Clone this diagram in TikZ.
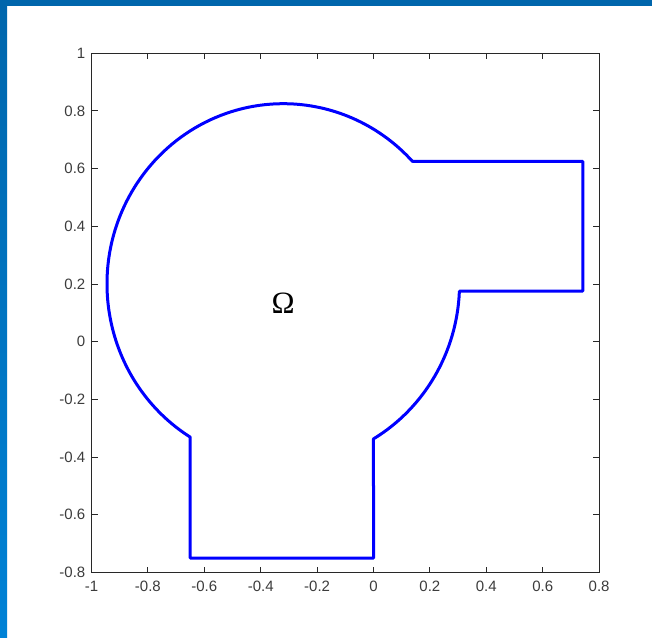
\documentclass[tikz,border=0pt]{standalone}
\usepackage{fontspec}
\setmainfont{Liberation Sans}
\newfontfamily\omegafont{Liberation Serif}
\definecolor{barTop}{RGB}{0,102,172}
\definecolor{barBot}{RGB}{0,130,214}
\definecolor{axisgray}{RGB}{40,40,40}
\definecolor{labelgray}{RGB}{60,60,60}
\begin{document}
\begin{tikzpicture}[x=1pt,y=1pt,
  axisline/.style={draw=axisgray,line width=1pt},
  ticklabel/.style={text=labelgray,font=\fontsize{15}{17}\selectfont,inner sep=0pt},
  domainline/.style={draw={rgb,255:red,0;green,0;blue,255},line width=3pt,line join=round}]
\useasboundingbox (0,0) rectangle (652,637);
\fill[white] (0,0) rectangle (652,637);
\shade[top color=barTop,bottom color=barBot] (0,0) rectangle (7,637);
\fill[barTop] (0,631) rectangle (652,637);
\begin{scope}[shift={(373.5,295.3)},x=282pt,y=288.5pt]
  % ticks
  \foreach \t in {-0.8,-0.6,-0.4,-0.2,0,0.2,0.4,0.6} {
    \draw[axisline,line width=0.9pt] (\t,-0.8) -- ++(0,6pt);
    \draw[axisline,line width=0.9pt] (\t,1) -- ++(0,-6pt);
  }
  \foreach \t in {-0.6,-0.4,-0.2,0,0.2,0.4,0.6,0.8} {
    \draw[axisline,line width=0.9pt] (-1,\t) -- ++(6pt,0);
    \draw[axisline,line width=0.9pt] (0.8,\t) -- ++(-6pt,0);
  }
  % box
  \draw[axisline] (-1,-0.8) rectangle (0.8,1);
  % x labels
  \foreach \t/\l in {-1/-1,-0.8/-0.8,-0.6/-0.6,-0.4/-0.4,-0.2/-0.2,0/0,0.2/0.2,0.4/0.4,0.6/0.6,0.8/0.8}
    \node[ticklabel,anchor=north] (xl\l) at ([yshift=-8pt]\t,-0.8) {\l};
  % y labels
  \foreach \t/\l in {-0.8/-0.8,-0.6/-0.6,-0.4/-0.4,-0.2/-0.2,0/0,0.2/0.2,0.4/0.4,0.6/0.6,0.8/0.8,1/1}
    \node[ticklabel,anchor=east] (yl\l) at ([xshift=-6pt]-1,\t) {\l};
  % domain boundary
  \coordinate (A) at (0.13826,0.625);
  \coordinate (B) at (0.3045,0.175);
  \draw[domainline] (A) -- (0.742,0.625) -- (0.742,0.175) -- (B)
    arc[start angle=-2.2924,end angle=-59.21,radius=0.625]
    -- (0,-0.75) -- (-0.65,-0.75) -- (-0.65,-0.33076)
    arc[start angle=238.13,end angle=42.844,radius=0.625] -- cycle;
  \node[font=\omegafont\fontsize{31}{33}\selectfont,inner sep=0pt] (omega) at (-0.32,0.135) {Ω};
\end{scope}
\end{tikzpicture}
\end{document}
